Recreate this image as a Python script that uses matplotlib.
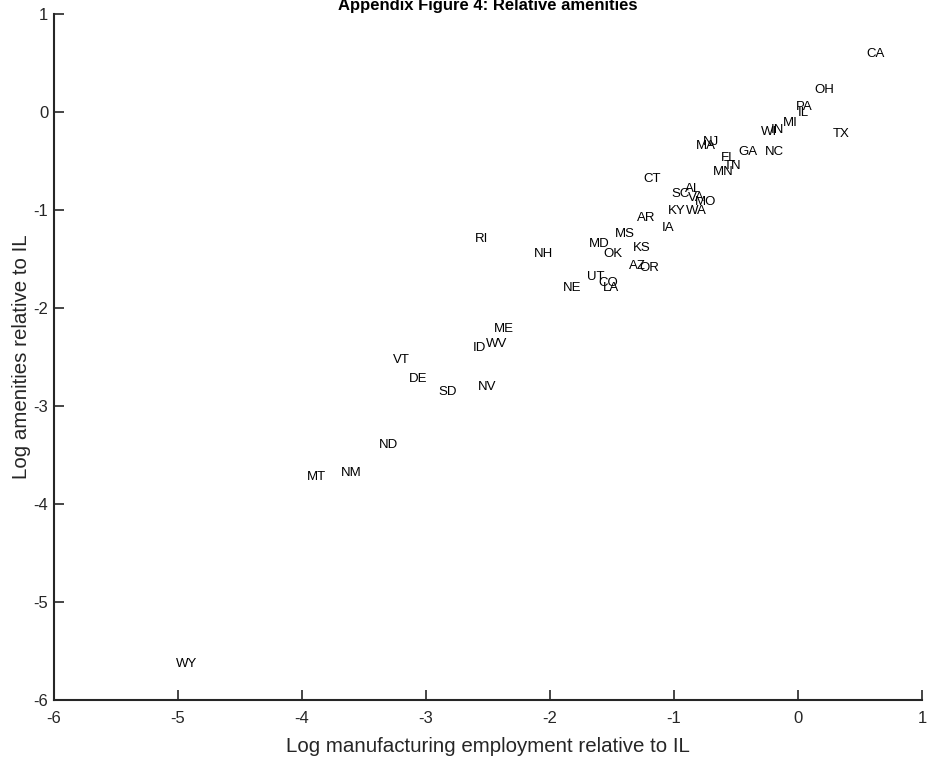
import matplotlib.pyplot as plt

plt.rcParams['font.family'] = ['Liberation Sans', 'DejaVu Sans']
plt.rcParams['axes.unicode_minus'] = False

# state labels and their positions (log manufacturing employment, log amenities, both relative to IL)
states = ["CA", "OH", "PA", "IL", "MI", "IN", "WI", "TX", "NJ", "MA", "FL", "GA",
          "NC", "TN", "MN", "CT", "SC", "AL", "VA", "MO", "KY", "WA", "AR", "IA",
          "MS", "MD", "OK", "KS", "AZ", "OR", "UT", "CO", "LA", "RI", "NH", "NE",
          "ME", "ID", "WV", "VT", "DE", "SD", "NV", "ND", "MT", "NM", "WY"]
log_manuf = [0.55, 0.13, -0.02, 0.00, -0.12, -0.22, -0.30, 0.28, -0.77, -0.82, -0.62, -0.48,
             -0.27, -0.60, -0.69, -1.25, -1.02, -0.91, -0.89, -0.83, -1.05, -0.90, -1.30, -1.10,
             -1.48, -1.69, -1.57, -1.33, -1.36, -1.28, -1.70, -1.61, -1.57, -2.61, -2.13, -1.90,
             -2.45, -2.62, -2.52, -3.27, -3.14, -2.90, -2.58, -3.38, -3.96, -3.69, -5.02]
log_amen = [0.59, 0.22, 0.05, -0.01, -0.11, -0.18, -0.20, -0.22, -0.31, -0.35, -0.47, -0.41,
            -0.41, -0.55, -0.61, -0.68, -0.84, -0.79, -0.88, -0.92, -1.01, -1.01, -1.08, -1.18,
            -1.24, -1.35, -1.45, -1.39, -1.57, -1.59, -1.68, -1.74, -1.80, -1.30, -1.45, -1.80,
            -2.21, -2.41, -2.37, -2.53, -2.72, -2.86, -2.81, -3.40, -3.72, -3.68, -5.63]

fig = plt.figure(figsize=(9.27, 7.59), dpi=100)
ax = fig.add_axes([0.0583, 0.0777, 0.9363, 0.9039])

for name, xv, yv in zip(states, log_manuf, log_amen):
    ax.text(xv, yv, name, fontsize=9.5, ha="left", va="center", color="black")

ax.set_xlim(-6, 1)
ax.set_ylim(-6, 1)
ax.set_xticks(range(-6, 2))
ax.set_yticks(range(-6, 2))

ax.spines["top"].set_visible(False)
ax.spines["right"].set_visible(False)
for s in ["left", "bottom"]:
    ax.spines[s].set_linewidth(1.5)
    ax.spines[s].set_color("#262626")

ax.tick_params(direction="in", length=7, width=1.2, labelsize=12,
               colors="#262626", labelcolor="#262626")
ax.tick_params(axis="x", pad=8)
ax.tick_params(axis="y", pad=4)

ax.set_xlabel("Log manufacturing employment relative to IL", fontsize=14.8,
              color="#262626", labelpad=8)
ax.set_ylabel("Log amenities relative to IL", fontsize=14.8, color="#262626", labelpad=2)
ax.set_title("Appendix Figure 4: Relative amenities", fontsize=12, fontweight="bold", pad=3)

fig.savefig("out.png", dpi=100)
